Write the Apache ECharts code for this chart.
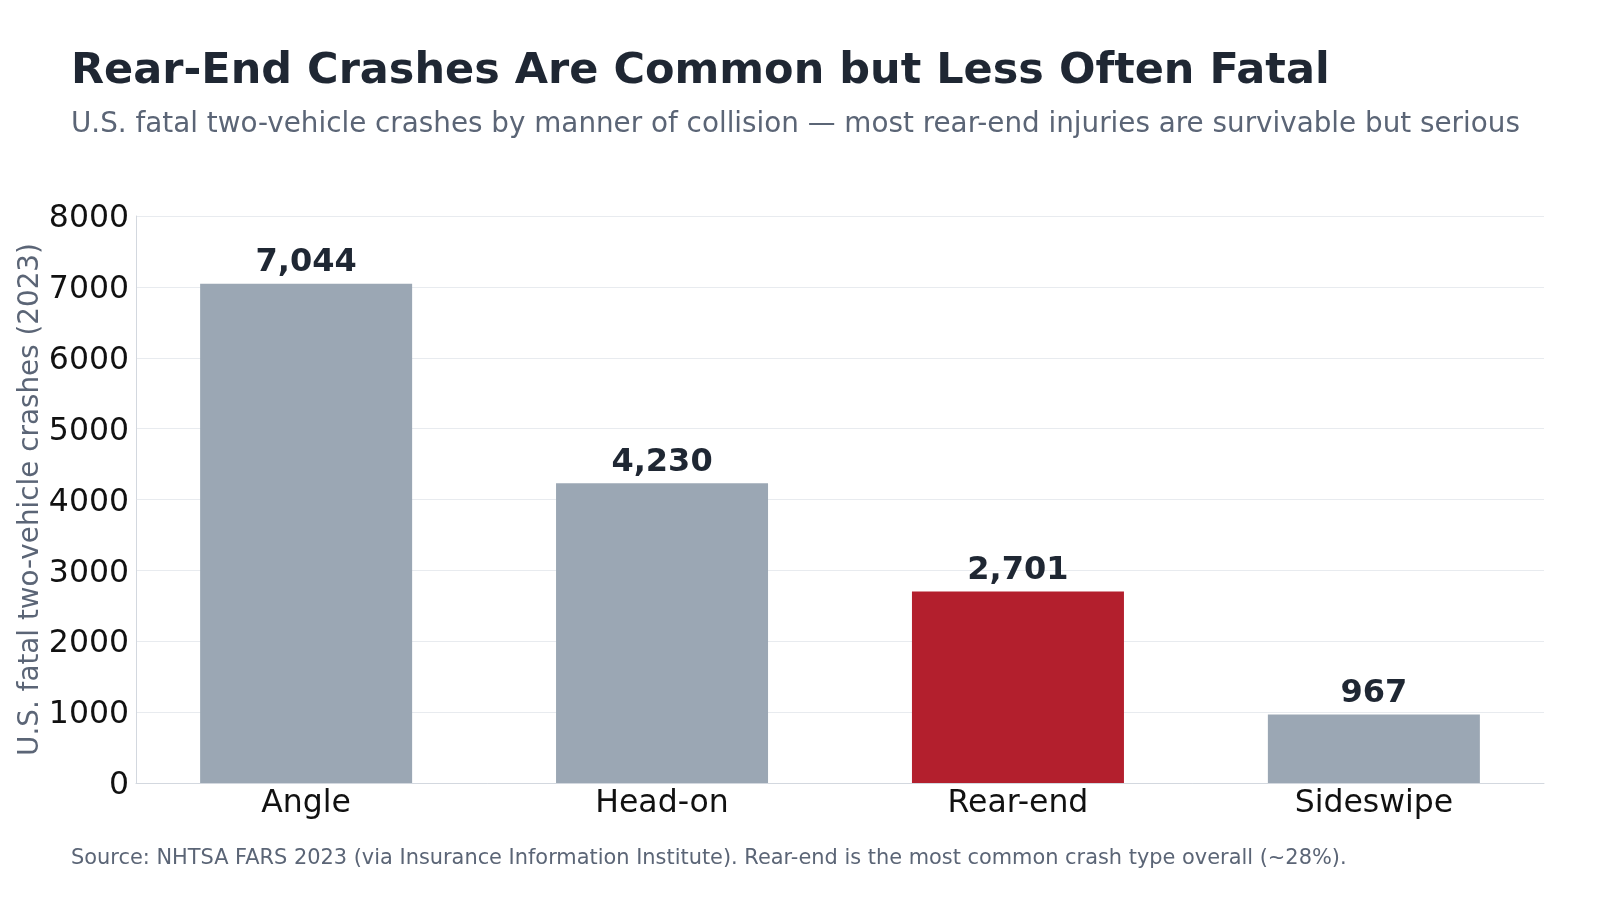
<!DOCTYPE html>
<html>
<head>
<meta charset="utf-8">
<script src="https://cdn.jsdelivr.net/npm/echarts@6/dist/echarts.min.js"></script>
<style>
  html, body { margin: 0; padding: 0; background: #fff; }
  #chart { width: 1600px; height: 900px; }
</style>
</head>
<body>
<div id="chart"></div>
<script>
// data
const categories = ["Angle", "Head-on", "Rear-end", "Sideswipe"];
const crashes = [7044, 4230, 2701, 967];
const highlight = "Rear-end";
const yMax = 8000;
const yStep = 1000;

const FONT = "DejaVu Sans";
const DARK = "#1f2733";
const MUTED = "#5b6576";

const myChart = echarts.init(document.getElementById("chart"));

const option = {
  backgroundColor: "#fff",
  animation: false,
  textStyle: { fontFamily: FONT },
  title: [
    {
      text: "Rear-End Crashes Are Common but Less Often Fatal",
      left: 71, top: 50, padding: 0,
      textStyle: { fontFamily: FONT, fontSize: 43, fontWeight: "bold", color: DARK }
    },
    {
      text: "U.S. fatal two-vehicle crashes by manner of collision — most rear-end injuries are survivable but serious",
      left: 71, top: 111, padding: 0,
      textStyle: { fontFamily: FONT, fontSize: 27.8, fontWeight: "normal", color: MUTED }
    },
    {
      text: "Source: NHTSA FARS 2023 (via Insurance Information Institute). Rear-end is the most common crash type overall (~28%).",
      left: 71, top: 848, padding: 0,
      textStyle: { fontFamily: FONT, fontSize: 20.9, fontWeight: "normal", color: MUTED }
    }
  ],
  grid: { left: 136, right: 56, top: 216, bottom: 117 },
  xAxis: {
    type: "value",
    // matplotlib-style side margins around the four bars
    min: -0.478,
    max: categories.length - 1 + 0.478,
    splitLine: { show: false },
    axisTick: { show: false },
    axisLine: { show: true, onZero: false, lineStyle: { color: "#d3d8df", width: 1 } },
    axisLabel: {
      customValues: categories.map((c, i) => i),
      formatter: (v) => categories[v] || "",
      fontFamily: FONT, fontSize: 31.5, color: "#111", margin: 5
    }
  },
  yAxis: {
    type: "value",
    min: 0, max: yMax, interval: yStep,
    name: "U.S. fatal two-vehicle crashes (2023)",
    nameLocation: "middle",
    nameGap: 91,
    nameMoveOverlap: false,
    nameTextStyle: { fontFamily: FONT, fontSize: 27.8, color: MUTED },
    axisLine: { show: true, onZero: false, lineStyle: { color: "#d3d8df", width: 1 } },
    axisTick: { show: false },
    axisLabel: {
      formatter: (v) => String(v),
      fontFamily: FONT, fontSize: 31.5, color: "#111", margin: 7,
      // nudge label glyphs a few px below the tick, like the reference
      verticalAlign: "top", lineHeight: 6
    },
    splitLine: { show: true, lineStyle: { color: "#e8ebef", width: 1 } }
  },
  series: [
    {
      type: "bar",
      barWidth: 212,
      data: crashes.map((v, i) => ({
        value: [i, v],
        itemStyle: { color: categories[i] === highlight ? "#b31f2d" : "#9ba7b4" }
      })),
      label: {
        show: true,
        position: "top",
        distance: 5,
        formatter: (p) => p.value[1].toLocaleString("en-US"),
        fontFamily: FONT, fontSize: 32, fontWeight: "bold", color: DARK
      }
    }
  ]
};

myChart.setOption(option);
window.addEventListener("resize", () => myChart.resize());
</script>
</body>
</html>
